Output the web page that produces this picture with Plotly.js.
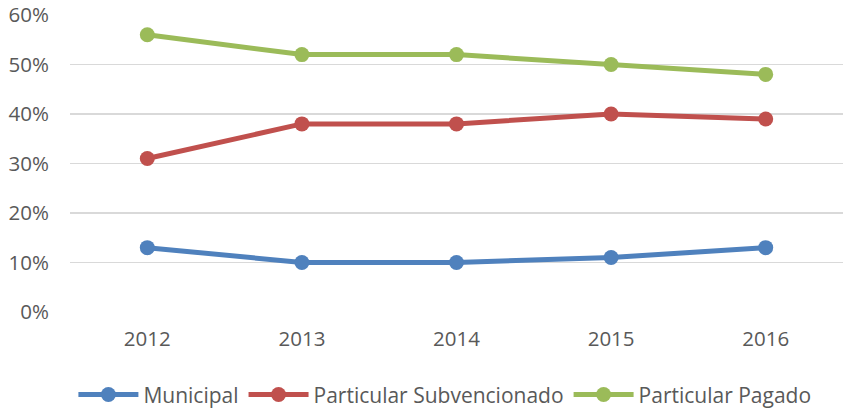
<!DOCTYPE html>
<html>
<head>
<meta charset="utf-8">
<script src="https://cdn.plot.ly/plotly-3.0.1.min.js"></script>
<style>html,body{margin:0;padding:0;background:#fff;}#chart{width:844px;height:410px;}</style>
</head>
<body>
<div id="chart"></div>
<script>
const years = ['2012', '2013', '2014', '2015', '2016'];
const municipal = [0.13, 0.10, 0.10, 0.11, 0.13];
const subvencionado = [0.31, 0.38, 0.38, 0.40, 0.39];
const pagado = [0.56, 0.52, 0.52, 0.50, 0.48];
const seriesNames = ['Municipal', 'Particular Subvencionado', 'Particular Pagado'];
const colors = ['#4F81BD', '#C0504D', '#9BBB59'];

const allSeries = [municipal, subvencionado, pagado];
const traces = allSeries.map((vals, i) => ({
  type: 'scatter',
  mode: 'lines+markers',
  x: years,
  y: vals,
  name: seriesNames[i],
  line: {color: colors[i], width: 5},
  marker: {color: colors[i], size: 15}
}));

const font = {family: 'Open Sans, sans-serif', size: 20.5, color: '#595959'};
const layout = {
  width: 844, height: 410,
  margin: {l: 70, r: 1, t: 15, b: 98},
  paper_bgcolor: '#fff', plot_bgcolor: '#fff',
  font: font,
  showlegend: true,
  legend: {orientation: 'h', x: 0.485, xanchor: 'center', yref: 'container', y: 0.037, yanchor: 'middle', itemwidth: 60, font: {family: 'Open Sans, sans-serif', size: 21, color: '#595959'}},
  xaxis: {type: 'category', range: [-0.5, 4.5], automargin: false, showgrid: false, zeroline: false, showline: false, ticks: '', ticklabelstandoff: 12, tickfont: font},
  yaxis: {range: [0, 0.6], dtick: 0.1, tickformat: '.0%', automargin: false, showgrid: true, gridcolor: '#d9d9d9', gridwidth: 1.5, zeroline: false, showline: false, ticks: '', ticklabelstandoff: 20, tickfont: font}
};

Plotly.newPlot('chart', traces, layout, {displayModeBar: false, staticPlot: true});
</script>
</body>
</html>
